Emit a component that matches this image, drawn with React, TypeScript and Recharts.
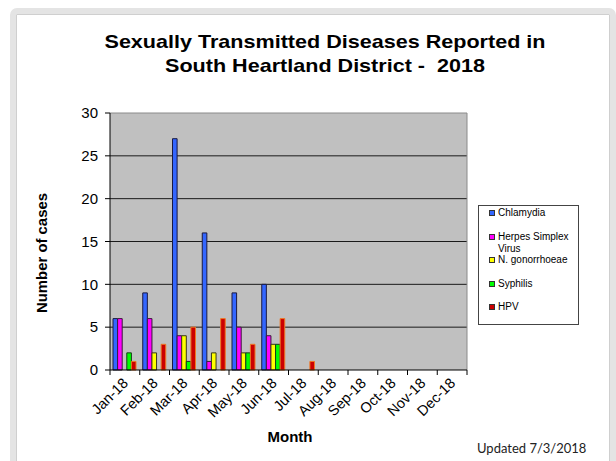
import React from "react";
import { BarChart, Bar, XAxis, YAxis, CartesianGrid, ReferenceLine } from "recharts";

const months = ["Jan-18", "Feb-18", "Mar-18", "Apr-18", "May-18", "Jun-18", "Jul-18", "Aug-18", "Sep-18", "Oct-18", "Nov-18", "Dec-18"];
const chlamydia = [6, 9, 27, 16, 9, 10, 0, null, null, null, null, null];
const herpes = [6, 6, 4, 1, 5, 4, 0, null, null, null, null, null];
const gonorrhoeae = [0, 2, 4, 2, 2, 3, 0, null, null, null, null, null];
const syphilis = [2, 0, 1, 0, 2, 3, 0, null, null, null, null, null];
const hpv = [1, 3, 5, 6, 3, 6, 1, null, null, null, null, null];
const yTicks = [0, 5, 10, 15, 20, 25, 30];

const series = [
    { key: "chlamydia", name: "Chlamydia", values: chlamydia, fill: "#3366ff", stroke: "#1a1a40" },
    { key: "herpes", name: "Herpes Simplex Virus", values: herpes, fill: "#ff00ff", stroke: "#3a1a3a" },
    { key: "gonorrhoeae", name: "N. gonorrhoeae", values: gonorrhoeae, fill: "#ffff00", stroke: "#3a3a1a" },
    { key: "syphilis", name: "Syphilis", values: syphilis, fill: "#00ff00", stroke: "#1a3a1a" },
    { key: "hpv", name: "HPV", values: hpv, fill: "#cc0000", stroke: "#ee7722" },
];

const data = months.map((month, i) => {
    const row: Record<string, string | number | null> = { month };
    series.forEach((s) => {
        row[s.key] = s.values[i];
    });
    return row;
});

const FONT = '"Liberation Sans", Arial, sans-serif';

function MonthTick(props: any) {
    const { x, y, payload, index, visibleTicksCount } = props;
    const half = payload?.offset || 14.86;
    const tx = x + 4;
    const ty = y + 9;
    return (
        <g>
            <line x1={x - half} x2={x - half} y1={y - 5} y2={y} stroke="#000" />
            {index === visibleTicksCount - 1 && <line x1={x + half} x2={x + half} y1={y - 5} y2={y} stroke="#000" />}
            <text x={tx} y={ty} transform={`rotate(-45 ${tx} ${ty})`} textAnchor="end" fontSize={14.5} fontFamily={FONT} fill="#000">
                {payload.value}
            </text>
        </g>
    );
}

export default function App() {
    return (
        <div style={{ position: "absolute", left: 0, top: 0, width: 616, height: 461, background: "#fff", overflow: "hidden" }}>
            {/* outer frame */}
            <div
                style={{
                    position: "absolute",
                    left: 10,
                    top: 8,
                    width: 594,
                    height: 460,
                    border: "6px solid #e4e4e4",
                    borderRadius: 7,
                    boxShadow: "inset 0 0 0 1px #cfcfcf",
                }}
            />
            <BarChart
                width={616}
                height={461}
                data={data}
                margin={{ top: 113, right: 149, left: 50, bottom: 31 }}
                barGap={0}
                barSize={4.6}
            >
                <CartesianGrid fill="#c0c0c0" vertical={false} horizontalValues={[5, 10, 15, 20, 25]} stroke="#1a1a1a" />
                <XAxis
                    dataKey="month"
                    interval={0}
                    height={60}
                    tickSize={5}
                    tickMargin={0}
                    tickLine={false}
                    axisLine={{ stroke: "#000" }}
                    tick={<MonthTick />}
                />
                <YAxis
                    width={60}
                    domain={[0, 30]}
                    ticks={yTicks}
                    tickSize={5}
                    tickMargin={7}
                    axisLine={{ stroke: "#000" }}
                    tickLine={{ stroke: "#000" }}
                    tick={{ fontSize: 15, fill: "#000", fontFamily: FONT }}
                />
                <ReferenceLine y={30} stroke="#8a8a8a" />
                <ReferenceLine x="Dec-18" position="end" stroke="#8a8a8a" />
                {series.map((s) => (
                    <Bar
                        key={s.key}
                        dataKey={s.key}
                        name={s.name}
                        fill={s.fill}
                        stroke={s.stroke}
                        strokeWidth={1}
                        isAnimationActive={false}
                    />
                ))}
            </BarChart>
            <svg width={616} height={461} style={{ position: "absolute", left: 0, top: 0, pointerEvents: "none" }}>
                <text x={325} y={48} textAnchor="middle" fontSize={19} fontWeight="bold" fontFamily={FONT} textLength={441} lengthAdjust="spacingAndGlyphs">
                    Sexually Transmitted Diseases Reported in
                </text>
                <text x={325} y={72} textAnchor="middle" fontSize={19} fontWeight="bold" fontFamily={FONT} textLength={320} lengthAdjust="spacingAndGlyphs" xmlSpace="preserve">
                    South Heartland District -  2018
                </text>
                <text x={47} y={253} transform="rotate(-90 47 253)" textAnchor="middle" fontSize={14.5} fontWeight="bold" fontFamily={FONT} textLength={120} lengthAdjust="spacingAndGlyphs">
                    Number of cases
                </text>
                <text x={290} y={442} textAnchor="middle" fontSize={15} fontWeight="bold" fontFamily={FONT}>
                    Month
                </text>
                <text x={477} y={453} fontSize={13} fontFamily="Lato, 'Open Sans', sans-serif" fill="#222">
                    Updated 7/3/2018
                </text>
            </svg>
            {/* legend */}
            <div
                style={{
                    position: "absolute",
                    left: 478,
                    top: 205,
                    width: 99,
                    height: 118,
                    border: "1px solid #444",
                    background: "#fff",
                    fontFamily: FONT,
                    fontSize: 10,
                    color: "#000",
                }}
            >
                {series.map((s, i) => (
                    <div key={s.key} style={{ position: "absolute", left: 10, top: 1 + i * 23.6, display: "flex", alignItems: "flex-start", lineHeight: "12px" }}>
                        <span
                            style={{
                                display: "inline-block",
                                width: 4,
                                height: 4,
                                marginTop: 3,
                                marginRight: 3,
                                background: s.fill,
                                border: "1px solid #333",
                            }}
                        />
                        <span style={{ width: 82 }}>{s.name}</span>
                    </div>
                ))}
            </div>
        </div>
    );
}
